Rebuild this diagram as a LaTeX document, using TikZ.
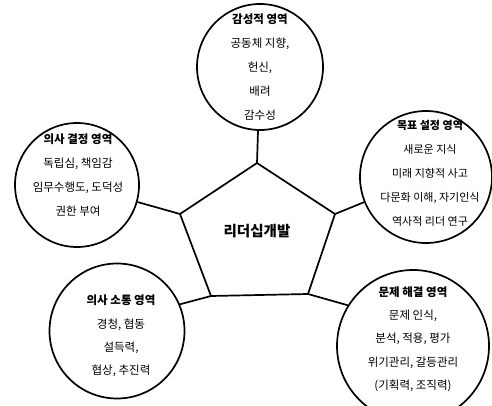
\documentclass[tikz,border=0pt]{standalone}
\usepackage{fontspec}
\newfontfamily\kr{Noto Sans CJK KR}
\begin{document}
\begin{tikzpicture}[x=1pt,y=-1pt,
  area/.style={circle,draw,line width=1.7pt,inner sep=0pt},
  txt/.style={font=\kr\fontsize{11.5}{24}\selectfont,align=center,inner sep=0pt},
  link/.style={line width=1.7pt,line join=miter}]
\useasboundingbox (0,0) rectangle (492,406);
% pentagon
\coordinate (p1) at (257,163);
\coordinate (p2) at (180,214);
\coordinate (p3) at (335,214);
\coordinate (p4) at (211,296);
\coordinate (p5) at (308,294);
\draw[link] (p1) -- (p2) -- (p4) -- (p5) -- (p3) -- cycle;
\node[font=\kr\bfseries\fontsize{14.5}{16}\selectfont,inner sep=0pt] (ctr) at (257,231) {리더십개발};
% circles
\node[area,minimum size=126pt] (top) at (260,67) {};
\node[area,minimum size=124pt] (lft) at (77,185) {};
\node[area,minimum size=132pt] (rgt) at (426,177) {};
\node[area,minimum size=135pt] (bl) at (117,331) {};
\node[area,minimum size=152pt] (br) at (413,346) {};
% texts
\node[txt] (ttop) at (260,67) {{\bfseries 감성적 영역}\\공동체 지향,\\헌신,\\배려\\감수성};
\node[txt] (tlft) at (78,175) {{\bfseries 의사 결정 영역}\\독립심, 책임감\\임무수행도, 도덕성\\권한 부여};
\node[txt,font=\kr\fontsize{11}{24}\selectfont] (trgt) at (430,173) {{\bfseries 목표 설정 영역}\\새로운 지식\\미래 지향적 사고\\다문화 이해, 자기인식\\역사적 리더 연구};
\node[txt,font=\kr\fontsize{11.5}{23.3}\selectfont] (tbl) at (121,336) {{\bfseries 의사 소통 영역}\\경청, 협동\\설득력,\\협상, 추진력};
\node[txt,font=\kr\fontsize{11.5}{23.3}\selectfont] (tbr) at (413,339) {{\bfseries 문제 해결 영역}\\문제 인식,\\분석, 적용, 평가\\위기관리, 갈등관리\\(기획력, 조직력)};
% connectors
\draw[link] (top) -- (p1);
\draw[link] (lft) -- (p2);
\draw[link] (rgt) -- (p3);
\draw[link] (bl.23) -- (p4);
\draw[link] (br.148) -- (p5);
\end{tikzpicture}
\end{document}
